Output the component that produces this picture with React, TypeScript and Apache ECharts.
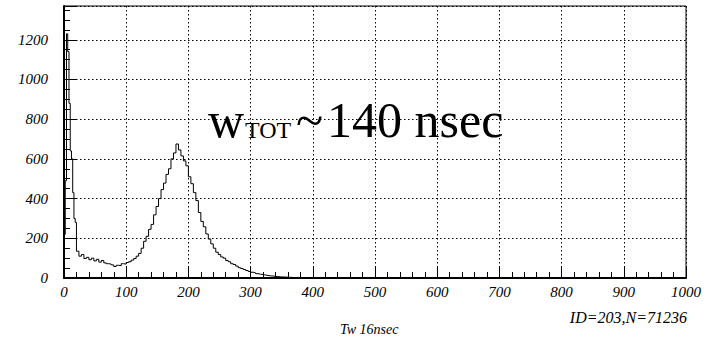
import React, { useEffect, useRef } from "react";
import * as echarts from "echarts";

// Histogram bin contents
// fine bins: width 2, starting at 0
const fineWidth = 2;
const fineCounts = [220, 490, 1230, 1140, 880, 640, 600, 430, 300, 280];
// coarse bins: width 4, starting at 20
const coarseWidth = 4;
const coarseCounts = [
  135, 110, 118, 98, 104, 92, 100, 86, 94, 80,
  88, 76, 72, 70, 66, 58, 64, 62, 72, 70,
  78, 82, 90, 98, 110, 124, 150, 185, 210, 245,
  270, 318, 360, 400, 445, 478, 522, 550, 600, 630,
  675, 645, 615, 590, 565, 510, 475, 430, 390, 330,
  285, 258, 222, 196, 172, 150, 130, 118, 106, 100,
  88, 82, 72, 68, 60, 52, 48, 43, 38, 33,
  29, 26, 22, 19, 17, 15, 13, 11, 10, 8,
  7, 6, 5, 5, 4, 3, 3, 2, 3, 2,
  1, 2, 1, 1, 2, 1, 1, 0, 1, 0,
  1, 0, 1, 0, 0,
];
const xTicks = [0, 100, 200, 300, 400, 500, 600, 700, 800, 900, 1000];
const yTicks = [0, 200, 400, 600, 800, 1000, 1200];
const xMax = 1000;
const yMax = 1370;
const xTitle = "Tw 16nsec";
const statText = "ID=203,N=71236";

const SERIF = "Liberation Serif";

export default function App() {
  const ref = useRef<HTMLDivElement>(null);
  useEffect(() => {
    if (!ref.current) return;
    const chart = echarts.init(ref.current, undefined, { renderer: "svg" });

    const pts: [number, number][] = [[0, 0]];
    let edge = 0;
    for (const c of fineCounts) {
      pts.push([edge, c]);
      edge += fineWidth;
    }
    for (const c of coarseCounts) {
      pts.push([edge, c]);
      edge += coarseWidth;
    }
    pts.push([edge, 0]);
    pts.push([xMax, 0]);

    const dotted = { color: "#000", width: 1, type: [1.5, 2.5] as number[] };

    const textEl = (
      text: string,
      x: number,
      y: number,
      size: number,
      italic: boolean,
      align: string
    ) => ({
      type: "text",
      x,
      y,
      style: {
        text,
        fontFamily: SERIF,
        fontSize: size,
        fontStyle: italic ? "italic" : "normal",
        fill: "#000",
        verticalAlign: "middle",
        align,
      },
    });

    chart.setOption({
      animation: false,
      grid: {
        left: 64,
        right: 27,
        top: 6,
        bottom: 61,
        show: true,
        borderColor: "#000",
        borderWidth: 1,
        backgroundColor: "transparent",
      },
      xAxis: {
        type: "value",
        min: 0,
        max: xMax,
        interval: xTicks[1] - xTicks[0],
        axisLine: { show: true, lineStyle: { color: "#000", width: 2 } },
        axisTick: { show: true, inside: true, length: 12, lineStyle: { color: "#000" } },
        minorTick: { show: true, splitNumber: 5, length: 6, lineStyle: { color: "#000" } },
        splitLine: { show: true, lineStyle: dotted },
        axisLabel: {
          show: true,
          fontFamily: SERIF,
          fontStyle: "italic",
          fontSize: 15,
          color: "#000",
          margin: 6,
          formatter: (v: number) => (xTicks.includes(v) ? String(v) : ""),
        },
      },
      yAxis: [
        {
          type: "value",
          min: 0,
          max: yMax,
          interval: yTicks[1] - yTicks[0],
          axisLine: { show: true, lineStyle: { color: "#000", width: 2 } },
          axisTick: { show: true, inside: true, length: 12, lineStyle: { color: "#000" } },
          splitLine: { show: true, lineStyle: dotted },
          axisLabel: {
            show: true,
            fontFamily: SERIF,
            fontStyle: "italic",
            fontSize: 15,
            color: "#000",
            margin: 16,
            formatter: (v: number) => (yTicks.includes(v) ? String(v) : ""),
          },
        },
        {
          type: "value",
          position: "left",
          min: 0,
          max: yMax,
          interval: 50,
          axisLine: { show: false },
          axisTick: { show: true, inside: true, length: 6, lineStyle: { color: "#000" } },
          splitLine: { show: false },
          axisLabel: { show: false },
        },
      ],
      series: [
        {
          type: "line",
          step: "end",
          data: pts,
          yAxisIndex: 0,
          showSymbol: false,
          symbol: "none",
          lineStyle: { color: "#000", width: 1 },
          clip: true,
        },
      ],
      graphic: [
        textEl("w", 208, 120, 50, false, "left"),
        textEl("TOT", 245, 130, 24, false, "left"),
        textEl("~", 296, 120, 50, false, "left"),
        textEl("140 nsec", 327, 120, 50, false, "left"),
        textEl(statText, 687, 317, 16, true, "right"),
        textEl(xTitle, 340, 329, 14, true, "left"),
      ],
    });
    return () => chart.dispose();
  }, []);
  return (
    <div
      ref={ref}
      style={{ position: "absolute", left: 0, top: 0, width: 713, height: 339 }}
    />
  );
}
